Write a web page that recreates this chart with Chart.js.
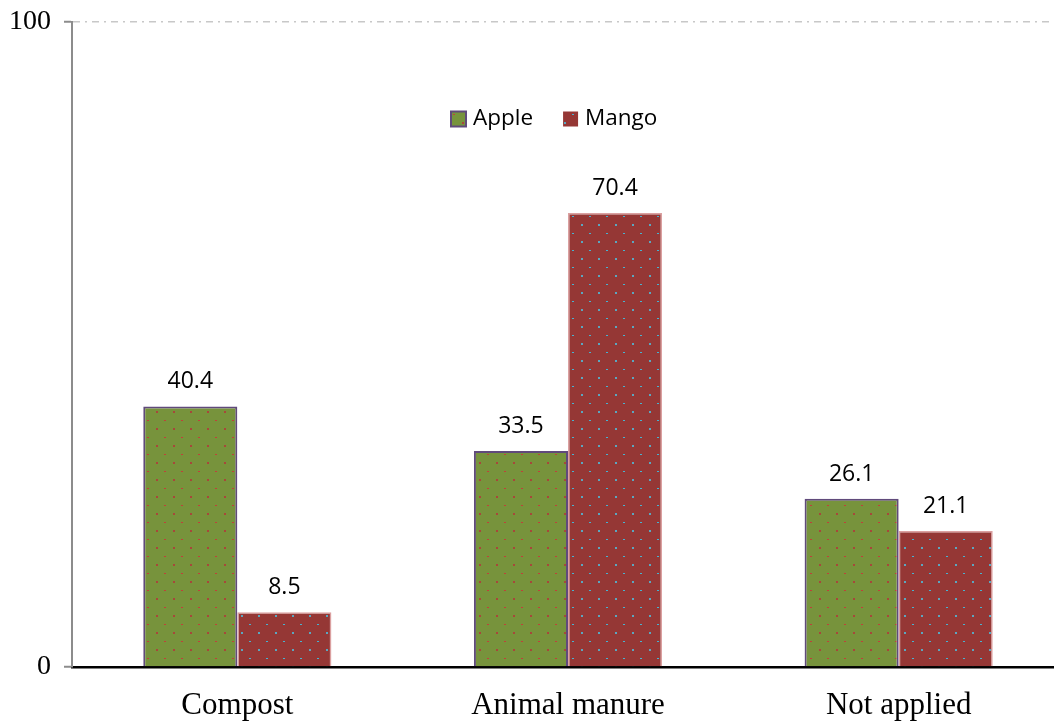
<!DOCTYPE html>
<html>
<head>
<meta charset="utf-8">
<script src="https://cdn.jsdelivr.net/npm/chart.js@4.4.1/dist/chart.umd.min.js"></script>
<style>
  html, body { margin: 0; padding: 0; background: #fff; overflow: hidden; width: 1054px; height: 723px; }
  #wrap { width: 1064px; height: 723px; }
</style>
</head>
<body>
<div id="wrap"><canvas id="c" width="1064" height="723"></canvas></div>
<script>
const categories = ['Compost', 'Animal manure', 'Not applied'];
const seriesNames = ['Apple', 'Mango'];
const appleValues = [40.4, 33.5, 26.1];
const mangoValues = [8.5, 70.4, 21.1];
const yTicks = [0, 100];

const canvas = document.getElementById('c');
const ctx = canvas.getContext('2d');

// Dotted fill: small tile repeated over each bar
function dottedFill(base, dotBig, dotSmall) {
  const t = document.createElement('canvas');
  t.width = 17; t.height = 17;
  const g = t.getContext('2d');
  g.fillStyle = base;
  g.fillRect(0, 0, 17, 17);
  g.fillStyle = dotBig;
  g.fillRect(3, 3, 2, 2);
  g.fillStyle = dotSmall;
  g.fillRect(11, 12, 2, 1);
  return ctx.createPattern(t, 'repeat');
}

const appleFill = dottedFill('#77933c', '#a8473a', '#c0403a');
const mangoFill = dottedFill('#953735', '#5aa7c0', '#45b3d2');

// Value labels above each bar
const valueLabels = {
  id: 'valueLabels',
  afterDatasetsDraw(chart) {
    const c = chart.ctx;
    c.save();
    c.font = '23px "Open Sans"';
    c.fillStyle = '#000';
    c.textAlign = 'center';
    c.textBaseline = 'alphabetic';
    chart.data.datasets.forEach((ds, i) => {
      chart.getDatasetMeta(i).data.forEach((bar, j) => {
        c.fillText(ds.data[j].toFixed(1), bar.x, bar.y - 18);
      });
    });
    c.restore();
  }
};

// Legend placed inside the plot area
const insideLegend = {
  id: 'insideLegend',
  afterDraw(chart) {
    const c = chart.ctx;
    c.save();
    c.font = '22.5px "Open Sans"';
    c.textBaseline = 'middle';
    c.textAlign = 'left';
    let x = 451;
    const yMid = 119;
    chart.data.datasets.forEach((ds, i) => {
      c.fillStyle = ds.backgroundColor;
      c.fillRect(x, yMid - 7.5, 15, 15);
      if (i === 0) {
        c.strokeStyle = ds.borderColor;
        c.lineWidth = 2;
        c.strokeRect(x, yMid - 7.5, 15, 15);
      }
      c.fillStyle = '#000';
      c.fillText(ds.label, x + 22, yMid);
      x += 22 + c.measureText(ds.label).width + 30;
    });
    c.restore();
  }
};

new Chart(canvas, {
  type: 'bar',
  data: {
    labels: categories,
    datasets: [
      { label: seriesNames[0], data: appleValues, backgroundColor: appleFill,
        borderColor: '#604a7b', borderWidth: 2 },
      { label: seriesNames[1], data: mangoValues, backgroundColor: mangoFill,
        borderColor: 'rgba(215,150,150,0.9)', borderWidth: 1.5 }
    ]
  },
  options: {
    responsive: false,
    devicePixelRatio: 1,
    animation: false,
    events: [],
    layout: { padding: { top: 0, right: 0, bottom: 0, left: 0 } },
    datasets: { bar: { categoryPercentage: 0.569, barPercentage: 1.0 } },
    plugins: { legend: { display: false }, tooltip: { enabled: false } },
    scales: {
      x: {
        grid: { display: false },
        border: { display: true, color: '#000', width: 2.5 },
        ticks: { color: '#000', font: { family: '"Liberation Serif"', size: 31 }, padding: 12 },
        afterFit(s) { s.height = 56; }
      },
      y: {
        min: 0, max: 100,
        afterBuildTicks(s) { s.ticks = yTicks.map(v => ({ value: v })); },
        grid: {
          color: (c) => (c.tick && c.tick.value === 100 ? '#c8c8c8' : 'rgba(0,0,0,0)'),
          lineWidth: 1.5,
          drawTicks: true,
          tickLength: 8,
          tickColor: '#8c8c8c',
          tickWidth: 2
        },
        border: { display: true, color: '#8c8c8c', width: 2, dash: [7, 5, 2, 5] },
        ticks: { color: '#000', font: { family: '"Liberation Serif"', size: 28, lineHeight: 0.8 }, padding: 13 },
        afterFit(s) { s.width = 72; s.paddingTop = 22; }
      }
    }
  },
  plugins: [valueLabels, insideLegend]
});
</script>
</body>
</html>
